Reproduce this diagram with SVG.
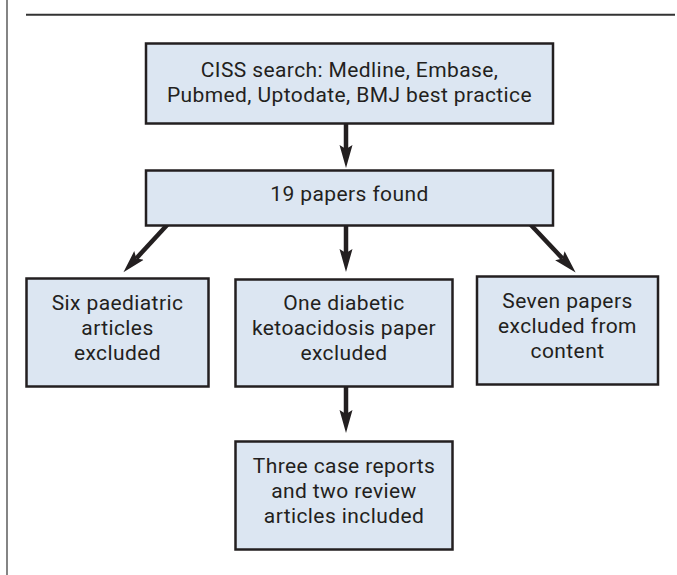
<svg xmlns="http://www.w3.org/2000/svg" width="677" height="575" viewBox="0 0 677 575">
<style>
.box{fill:#dce6f2;stroke:#231f20;stroke-width:2.5}
.t{font-family:Roboto,"Liberation Sans",sans-serif;font-size:21px;letter-spacing:0.4px;fill:#231f20;text-anchor:middle}
.c{stroke:#231f20;stroke-width:4.5;fill:none;marker-end:url(#ah)}
</style>
<defs>
<marker id="ah" markerUnits="userSpaceOnUse" markerWidth="24" markerHeight="14" viewBox="0 0 24 14" refX="4" refY="7" orient="auto">
<path d="M0,0.5 L23,7 L0,13.5 L4,7 Z" fill="#231f20"/>
</marker>
</defs>
<g id="frame">
<line x1="7" y1="0" x2="7" y2="575" stroke="#666" stroke-width="1.6"/>
<line x1="26" y1="14.7" x2="675" y2="14.7" stroke="#333" stroke-width="2"/>
</g>
<g id="connectors">
<line class="c" x1="346" y1="123" x2="346" y2="149"/>
<line class="c" x1="346" y1="225" x2="346" y2="253"/>
<line class="c" x1="168" y1="224" x2="136.3" y2="258.4"/>
<line class="c" x1="530" y1="224" x2="562.6" y2="258.6"/>
<line class="c" x1="346" y1="387" x2="346" y2="414"/>
</g>
<g id="n1">
<rect class="box" x="146" y="43.5" width="407" height="80"/>
<text class="t"><tspan x="349.5" y="77">CISS search: Medline, Embase,</tspan><tspan x="349.5" y="102">Pubmed, Uptodate, BMJ best practice</tspan></text>
</g>
<g id="n2">
<rect class="box" x="146" y="170.5" width="407" height="55"/>
<text class="t" x="349.5" y="201">19 papers found</text>
</g>
<g id="n3">
<rect class="box" x="26.5" y="278.5" width="182" height="108"/>
<text class="t"><tspan x="117.5" y="310">Six paediatric</tspan><tspan x="117.5" y="335">articles</tspan><tspan x="117.5" y="360">excluded</tspan></text>
</g>
<g id="n4">
<rect class="box" x="235.5" y="279.5" width="217" height="107"/>
<text class="t"><tspan x="344" y="310">One diabetic</tspan><tspan x="344" y="335">ketoacidosis paper</tspan><tspan x="344" y="360">excluded</tspan></text>
</g>
<g id="n5">
<rect class="box" x="477" y="276.5" width="181" height="108"/>
<text class="t"><tspan x="567.5" y="308">Seven papers</tspan><tspan x="567.5" y="333">excluded from</tspan><tspan x="567.5" y="358">content</tspan></text>
</g>
<g id="n6">
<rect class="box" x="235.5" y="441.5" width="217" height="108"/>
<text class="t"><tspan x="344" y="473">Three case reports</tspan><tspan x="344" y="498">and two review</tspan><tspan x="344" y="523">articles included</tspan></text>
</g>
</svg>
